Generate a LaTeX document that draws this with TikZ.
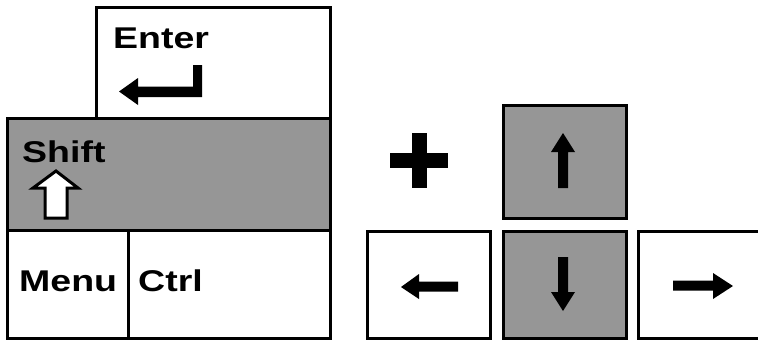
\documentclass[tikz,border=0pt]{standalone}
\usepackage{fontspec}
\newfontfamily\keyfont[FakeStretch=1.25]{Liberation Sans}
\definecolor{keygray}{RGB}{150,150,150}
\tikzset{
  keybox/.style={draw=black, line width=3pt, inner sep=0pt, outer sep=0pt, fill=white},
  graykey/.style={keybox, fill=keygray},
  keylabel/.style={inner sep=0pt, anchor=base west, font=\keyfont\bfseries\fontsize{30}{36}\selectfont},
  glyph/.style={fill=black, draw=none}
}
\begin{document}
\begin{tikzpicture}[x=1pt,y=-1pt]
\useasboundingbox (0,0) rectangle (758,341);
\clip (0,0) rectangle (758,341);
\fill[white] (0,0) rectangle (758,341);
% left group keys
\node[keybox, minimum width=234pt, minimum height=111pt] (enter) at (213,62.5) {};
\node[graykey, minimum width=323pt, minimum height=112pt] (shift) at (168.5,174) {};
\node[keybox, minimum width=121pt, minimum height=108pt] (menu) at (67.5,284) {};
\node[keybox, minimum width=202pt, minimum height=108pt] (ctrl) at (229,284) {};
% right group keys
\node[graykey, minimum width=123pt, minimum height=113pt] (up) at (564.5,161.5) {};
\node[keybox, minimum width=123pt, minimum height=107pt] (left) at (428.5,284.5) {};
\node[graykey, minimum width=123pt, minimum height=107pt] (down) at (564.5,284.5) {};
\node[keybox, minimum width=140pt, minimum height=107pt] (right) at (708,284.5) {};
% labels
\node[keylabel] (tenter) at (113,48) {Enter};
\node[keylabel] (tshift) at (22,162) {Shift};
\node[keylabel] (tmenu) at (19,291) {Menu};
\node[keylabel] (tctrl) at (138,291) {Ctrl};
% enter arrow
\fill[glyph] (119,91.5) -- (138,78) -- (138,86.5) -- (193,86.5) -- (193,65) -- (202,65) -- (202,97) -- (138,97) -- (138,105) -- cycle;
% shift arrow
\filldraw[fill=white, draw=black, line width=3pt, line join=miter] (56,171) -- (78,188) -- (67,188) -- (67,218) -- (45,218) -- (45,188) -- (33,188) -- cycle;
% plus
\fill[glyph] (390,153) rectangle (448,168);
\fill[glyph] (412,133) rectangle (427,188);
% up arrow
\fill[glyph] (563,133) -- (575,152) -- (568,152) -- (568,188) -- (558,188) -- (558,152) -- (551,152) -- cycle;
% down arrow
\fill[glyph] (563,311) -- (575,292) -- (568,292) -- (568,257) -- (558,257) -- (558,292) -- (551,292) -- cycle;
% left arrow
\fill[glyph] (401,287) -- (419,274) -- (419,281.5) -- (458,281.5) -- (458,291.5) -- (419,291.5) -- (419,299) -- cycle;
% right arrow
\fill[glyph] (733,286) -- (713,273) -- (713,280.5) -- (673,280.5) -- (673,290.5) -- (713,290.5) -- (713,299) -- cycle;
\end{tikzpicture}
\end{document}
